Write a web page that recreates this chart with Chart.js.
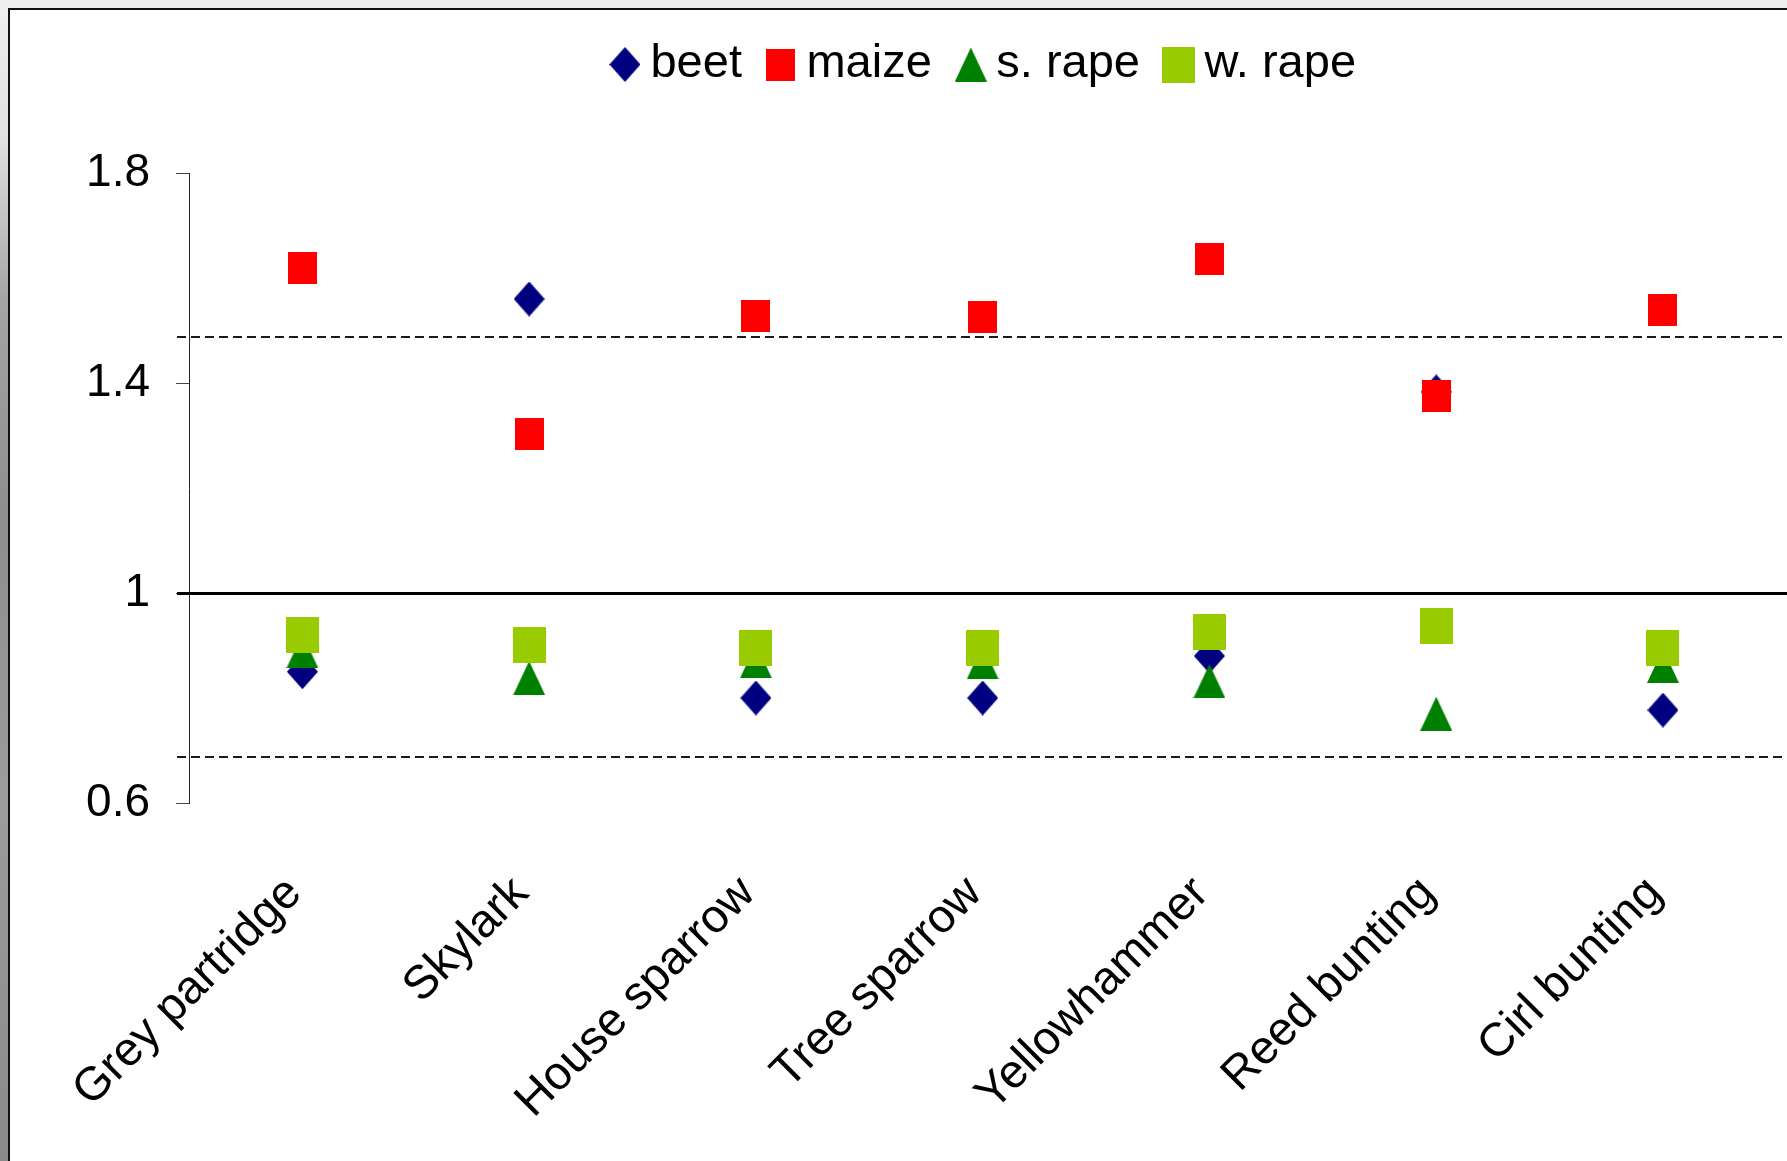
<!DOCTYPE html>
<html>
<head>
<meta charset="utf-8">
<title>Farmland birds</title>
<script src="https://cdn.jsdelivr.net/npm/chart.js@4.4.1/dist/chart.umd.min.js"></script>
<style>
  html, body { margin: 0; padding: 0; width: 1787px; height: 1161px; overflow: hidden; }
  body {
    position: relative;
    background: linear-gradient(to bottom, #efefef 0px, #e0e0e0 140px, #a4a4a4 300px, #8e8e8e 520px, #9c9c9c 800px, #8a8a8a 1161px);
  }
  #frame { position: absolute; left: 8px; top: 8px; width: 2000px; height: 1300px; background: #fff; border: 2px solid #111; box-sizing: border-box; }
  #wrap { position: absolute; left: 9px; top: 4px; width: 1961px; height: 1157px; }
</style>
</head>
<body>
<div id="frame"></div>
<div id="wrap"><canvas id="myChart"></canvas></div>
<script>
// values
const categories = ['Grey partridge', 'Skylark', 'House sparrow', 'Tree sparrow', 'Yellowhammer', 'Reed bunting', 'Cirl bunting'];
const beet  = [0.85, 1.56, 0.80, 0.80, 0.88, 1.383, 0.777];
const maize = [1.62, 1.303, 1.528, 1.526, 1.637, 1.375, 1.539];
const sRape = [0.889, 0.838, 0.87, 0.868, 0.832, 0.77, 0.861];
const wRape = [0.92, 0.901, 0.895, 0.896, 0.926, 0.937, 0.895];
const yTicks = [0.6, 1, 1.4, 1.8];
const dashedLines = [1.488, 0.688];
const baseLine = 1;

const fontFamily = '"Liberation Sans", Arial, sans-serif';

function marker(shape, color, w, h) {
    const c = document.createElement('canvas');
    c.width = w;
    c.height = h;
    const g = c.getContext('2d');
    g.fillStyle = color;
    g.beginPath();
    if (shape === 'diamond') {
        g.moveTo(w / 2, 0); g.lineTo(w, h / 2); g.lineTo(w / 2, h); g.lineTo(0, h / 2);
    } else if (shape === 'triangle') {
        g.moveTo(w / 2, 0); g.lineTo(w, h); g.lineTo(0, h);
    } else {
        g.rect(0, 0, w, h);
    }
    g.closePath();
    g.fill();
    return c;
}

function toPoints(values) {
    return values.map((v, i) => ({x: i, y: v}));
}

// horizontal reference lines (the solid one is where the category axis crosses)
const refLines = {
    id: 'refLines',
    beforeDatasetsDraw(chart) {
        const ctx = chart.ctx;
        const area = chart.chartArea;
        const y = chart.scales.y;
        ctx.save();
        ctx.strokeStyle = '#1a1a1a';
        ctx.lineWidth = 2;
        ctx.setLineDash([9, 5]);
        dashedLines.forEach(v => {
            const py = Math.round(y.getPixelForValue(v));
            ctx.beginPath();
            ctx.moveTo(area.left - 12, py);
            ctx.lineTo(area.right, py);
            ctx.stroke();
        });
        ctx.setLineDash([]);
        ctx.strokeStyle = '#000';
        ctx.lineWidth = 3;
        const p = Math.round(y.getPixelForValue(baseLine)) + 0.5;
        ctx.beginPath();
        ctx.moveTo(area.left - 12, p);
        ctx.lineTo(area.right, p);
        ctx.stroke();
        ctx.restore();
    }
};

// leave room between the legend and the plot
const legendSpace = {
    id: 'legendSpace',
    afterInit(chart) {
        const legend = chart.legend;
        if (!legend) return;
        const fit = legend.fit;
        legend.fit = function () {
            fit.call(this);
            this.height = 169;
        };
    }
};

const data = {
    datasets: [
        {label: 'beet', data: toPoints(beet), pointStyle: marker('diamond', '#000080', 31, 35), order: 4},
        {label: 'maize', data: toPoints(maize), pointStyle: marker('rect', '#ff0000', 29, 32), order: 3},
        {label: 's. rape', data: toPoints(sRape), pointStyle: marker('triangle', '#008000', 32, 34), order: 2},
        {label: 'w. rape', data: toPoints(wRape), pointStyle: marker('rect', '#99cc00', 33, 36), order: 1}
    ]
};

const config = {
    type: 'scatter',
    data: data,
    options: {
        responsive: true,
        maintainAspectRatio: false,
        animation: false,
        layout: {padding: 0},
        plugins: {
            tooltip: {enabled: false},
            legend: {
                position: 'top',
                labels: {
                    usePointStyle: true,
                    pointStyleWidth: 4,
                    padding: 37,
                    color: '#000',
                    font: {family: fontFamily, size: 47},
                    sort: (a, b) => a.datasetIndex - b.datasetIndex
                }
            }
        },
        scales: {
            x: {
                type: 'linear',
                min: -0.5,
                max: 7.332,
                grid: {display: false},
                border: {display: false},
                afterBuildTicks: scale => {
                    scale.ticks = categories.map((c, i) => ({value: i}));
                },
                afterFit: scale => {
                    scale.height = 358;
                    scale.paddingLeft = 0;
                    scale.paddingRight = 0;
                },
                ticks: {
                    autoSkip: false,
                    minRotation: 45,
                    maxRotation: 45,
                    labelOffset: -8,
                    padding: 55,
                    color: '#000',
                    font: {family: fontFamily, size: 47},
                    callback: value => categories[value]
                }
            },
            y: {
                min: 0.6,
                max: 1.8,
                afterBuildTicks: scale => {
                    scale.ticks = yTicks.map(v => ({value: v}));
                },
                afterFit: scale => {
                    scale.width = 180;
                },
                grid: {drawOnChartArea: false, tickLength: 13, color: '#444', lineWidth: 1},
                border: {color: '#222', width: 1},
                ticks: {
                    padding: 26,
                    color: '#000',
                    font: {family: fontFamily, size: 46},
                    callback: value => String(value)
                }
            }
        }
    },
    plugins: [refLines, legendSpace]
};

var myChart = new Chart(document.getElementById('myChart'), config);
</script>
</body>
</html>
